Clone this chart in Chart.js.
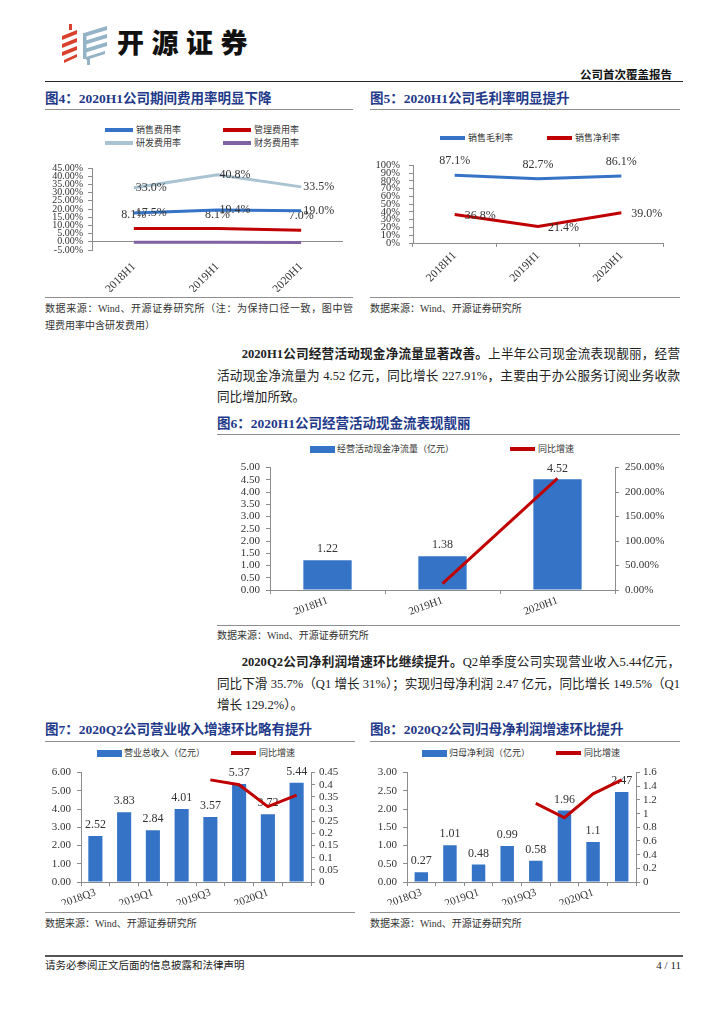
<!DOCTYPE html>
<html>
<head>
<meta charset="utf-8">
<script src="https://cdn.jsdelivr.net/npm/chart.js@4.4.1/dist/chart.umd.min.js"></script>
<style>
  body { margin: 0; background: #fff; }
  #page { position: relative; width: 724px; height: 1024px; overflow: hidden; background: #fff;
    font-family: "Liberation Serif", "Noto Sans CJK SC", serif; color: #222; }
  .abs { position: absolute; white-space: nowrap; }
  .title { font-weight: bold; color: #1f3a8a; font-size: 13.5px; line-height: 16px; }
  .rule { position: absolute; height: 0; border-top: 1.5px solid #8f8f8f; }
  .src { font-size: 10px; line-height: 17px; color: #333; }
  canvas { position: absolute; }
  .legend { position: absolute; font-size: 9px; line-height: 12px; color: #333; display: flex; align-items: center; white-space: nowrap; }
  .legend .li { display: inline-flex; align-items: center; }
  .legend .ln { display: inline-block; height: 3.5px; margin-right: 3px; }
  .legend .box { display: inline-block; height: 7px; margin-right: 2px; }
  .para { position: absolute; left: 217px; width: 463px; font-size: 12.6px; line-height: 21.5px; color: #222; }
  .para div { text-align: justify; text-align-last: justify; }
  .para div.last { text-align-last: left; }
</style>
</head>
<body>
<div id="page">
  <!-- header -->
  <svg class="abs" style="left:60px;top:24px" width="50" height="42" viewBox="0 0 50 42">
    <g fill="#d9412f">
      <rect x="9" y="0" width="3" height="6"/>
      <polygon points="2,12 17,6 17,10 2,16"/>
      <polygon points="2,20 17,14 17,18 2,24"/>
      <polygon points="2,28 17,22 17,26 2,32"/>
      <polygon points="4,36 17,30 17,33 4,39"/>
    </g>
    <g fill="#93b3c6">
      <polygon points="24,9 47,2 47,6 24,13"/>
      <polygon points="24,17 47,10 47,14 24,21"/>
      <polygon points="24,25 47,18 47,22 24,29"/>
      <polygon points="26,33 45,27 45,30 26,36"/>
      <rect x="23" y="9" width="3.5" height="26"/>
      <rect x="27" y="34" width="3" height="7"/>
    </g>
  </svg>
  <div class="abs" style="left:117px;top:26px;font-family:'Noto Sans CJK SC';font-weight:900;font-size:27px;line-height:32px;letter-spacing:7.5px;color:#111">开源证券</div>
  <div class="abs" style="right:52px;top:67px;font-family:'Noto Sans CJK SC';font-weight:bold;font-size:11.5px;line-height:14px;color:#111">公司首次覆盖报告</div>
  <div class="rule" style="left:45px;width:638px;top:81px;border-top:1.5px solid #222"></div>

  <!-- figure 4 -->
  <div class="abs title" style="left:45px;top:91px">图4：2020H1公司期间费用率明显下降</div>
  <div class="rule" style="left:45px;width:308px;top:109px"></div>
  <div id="lg4" class="legend" style="left:105px;top:124px;display:grid;grid-template-columns:118px 118px;row-gap:1px"></div>
  <canvas id="c4" width="308" height="142" style="left:45px;top:150px"></canvas>
  <div class="rule" style="left:45px;width:308px;top:297px"></div>
  <div class="abs src" style="left:45px;top:300px;width:308px;white-space:normal">
    <div style="text-align:justify;text-align-last:justify">数据来源：Wind、开源证券研究所（注：为保持口径一致，图中管</div>
    <div>理费用率中含研发费用）</div>
  </div>

  <!-- figure 5 -->
  <div class="abs title" style="left:370px;top:91px">图5：2020H1公司毛利率明显提升</div>
  <div class="rule" style="left:370px;width:310px;top:109px"></div>
  <div id="lg5" class="legend" style="left:440px;top:132px"></div>
  <canvas id="c5" width="310" height="142" style="left:370px;top:150px"></canvas>
  <div class="rule" style="left:370px;width:310px;top:297px"></div>
  <div class="abs src" style="left:370px;top:300px">数据来源：Wind、开源证券研究所</div>

  <!-- paragraph 1 -->
  <div class="para" style="top:344px">
    <div style="padding-left:24.7px"><b>2020H1公司经营活动现金净流量显著改善。</b>上半年公司现金流表现靓丽，经营</div>
    <div>活动现金净流量为 4.52 亿元，同比增长 227.91%，主要由于办公服务订阅业务收款</div>
    <div class="last">同比增加所致。</div>
  </div>

  <!-- figure 6 -->
  <div class="abs title" style="left:217px;top:416px">图6：2020H1公司经营活动现金流表现靓丽</div>
  <div class="rule" style="left:217px;width:463px;top:434px"></div>
  <div id="lg6" class="legend" style="left:310px;top:443px"></div>
  <canvas id="c6" width="463" height="167" style="left:217px;top:455px"></canvas>
  <div class="rule" style="left:217px;width:463px;top:625px"></div>
  <div class="abs src" style="left:217px;top:627px">数据来源：Wind、开源证券研究所</div>

  <!-- paragraph 2 -->
  <div class="para" style="top:652px">
    <div style="padding-left:24.7px"><b>2020Q2公司净利润增速环比继续提升。</b>Q2单季度公司实现营业收入5.44亿元，</div>
    <div>同比下滑 35.7%（Q1 增长 31%）；实现归母净利润 2.47 亿元，同比增长 149.5%（Q1</div>
    <div class="last">增长 129.2%）。</div>
  </div>

  <!-- figure 7 -->
  <div class="abs title" style="left:45px;top:722px">图7：2020Q2公司营业收入增速环比略有提升</div>
  <div class="rule" style="left:45px;width:310px;top:741px"></div>
  <div id="lg7" class="legend" style="left:97px;top:747px"></div>
  <canvas id="c7" width="310" height="145" style="left:45px;top:760px"></canvas>
  <div class="rule" style="left:45px;width:310px;top:912px"></div>
  <div class="abs src" style="left:45px;top:915px">数据来源：Wind、开源证券研究所</div>

  <!-- figure 8 -->
  <div class="abs title" style="left:370px;top:722px">图8：2020Q2公司归母净利润增速环比提升</div>
  <div class="rule" style="left:370px;width:310px;top:741px"></div>
  <div id="lg8" class="legend" style="left:422px;top:747px"></div>
  <canvas id="c8" width="310" height="145" style="left:370px;top:760px"></canvas>
  <div class="rule" style="left:370px;width:310px;top:912px"></div>
  <div class="abs src" style="left:370px;top:915px">数据来源：Wind、开源证券研究所</div>

  <!-- footer -->
  <div class="rule" style="left:45px;width:638px;top:955px;border-top:2px solid #555"></div>
  <div class="abs" style="left:45px;top:958px;font-size:10.5px;line-height:15px;color:#222">请务必参阅正文后面的信息披露和法律声明</div>
  <div class="abs" style="right:43px;top:958px;font-size:11px;line-height:15px;color:#222">4 / 11</div>
</div>

<script>
// ---- data ----
const halfYears = ['2018H1', '2019H1', '2020H1'];
const sellRate = [17.5, 19.4, 19.0];
const mgmtRate = [8.1, 8.1, 7.0];
const rdRate = [33.0, 40.8, 33.5];
const finRate = [-0.2, -0.3, -0.5];

const grossMargin = [87.1, 82.7, 86.1];
const netMargin = [36.8, 21.4, 39.0];

const cashFlow = [1.22, 1.38, 4.52];
const cashFlowYoy = [null, 13.1, 227.91];

const quarters = ['2018Q3', '2018Q4', '2019Q1', '2019Q2', '2019Q3', '2019Q4', '2020Q1', '2020Q2'];
const revenue = [2.52, 3.83, 2.84, 4.01, 3.57, 5.37, 3.72, 5.44];
const revenueYoy = [null, null, null, null, 0.42, 0.40, 0.31, 0.357];
const netProfit = [0.27, 1.01, 0.48, 0.99, 0.58, 1.96, 1.1, 2.47];
const netProfitYoy = [null, null, null, null, 1.15, 0.94, 1.29, 1.495];

// ---- style ----
const FONT = '"Liberation Serif", "Noto Sans CJK SC", serif';
const BLUE = '#3473c5';
const RED = '#c00000';
const LIGHT = '#a9c3d1';
const PURPLE = '#7f62a1';
const AXIS = '#8c8c8c';

Chart.defaults.font.family = FONT;
Chart.defaults.color = '#333';
Chart.defaults.animation = false;

// value labels drawn right after each dataset, so a later line can cover them
const valueLabels = {
  id: 'valueLabels',
  afterDatasetDraw(chart, args, opts) {
    const cfg = (opts.sets || []).find(s => s.index === args.index);
    if (!cfg) return;
    const ctx = chart.ctx;
    const data = chart.data.datasets[args.index].data;
    ctx.save();
    ctx.font = (cfg.size || 12) + 'px ' + FONT;
    ctx.fillStyle = '#333';
    ctx.textBaseline = 'middle';
    args.meta.data.forEach((el, i) => {
      const v = data[i];
      if (v === null || v === undefined) return;
      const txt = cfg.fmt ? cfg.fmt(v) : String(v);
      if (cfg.pos === 'right') {
        ctx.textAlign = 'left';
        ctx.fillText(txt, el.x + (cfg.dx || 2), el.y + (cfg.dy || 0));
      } else {
        ctx.textAlign = 'center';
        ctx.fillText(txt, el.x, el.y - (cfg.dy || 11));
      }
    });
    ctx.restore();
  }
};
Chart.register(valueLabels);

function htmlLegend(chart, id, widths, lineW) {
  const el = document.getElementById(id);
  chart.data.datasets.forEach((ds, i) => {
    const item = document.createElement('span');
    item.className = 'li';
    if (widths && widths[i]) item.style.width = widths[i] + 'px';
    const sw = document.createElement('i');
    if (ds.type === 'bar') {
      sw.className = 'box';
      sw.style.width = '25px';
      sw.style.background = ds.backgroundColor;
    } else {
      sw.className = 'ln';
      sw.style.width = (lineW || 25) + 'px';
      sw.style.background = ds.borderColor;
    }
    item.appendChild(sw);
    item.appendChild(document.createTextNode(ds.label));
    el.appendChild(item);
  });
}

const pct = v => v.toFixed(1) + '%';
const lineSet = (label, data, color) => ({
  type: 'line', label, data, borderColor: color, backgroundColor: color,
  borderWidth: 3, pointRadius: 0, tension: 0
});

// ---- figure 4 ----
const c4 = new Chart(document.getElementById('c4'), {
  type: 'line',
  data: {
    labels: halfYears,
    datasets: [
      lineSet('销售费用率', sellRate, BLUE),
      lineSet('管理费用率', mgmtRate, RED),
      lineSet('研发费用率', rdRate, LIGHT),
      lineSet('财务费用率', finRate, PURPLE)
    ]
  },
  options: {
    responsive: false,
    layout: { padding: { top: 18, right: 10, left: 0, bottom: 0 } },
    plugins: {
      legend: { display: false }, tooltip: { enabled: false },
      valueLabels: { sets: [
        { index: 0, pos: 'right', fmt: pct },
        { index: 1, pos: 'top', dy: 14, fmt: pct },
        { index: 2, pos: 'right', fmt: pct }
      ] }
    },
    scales: {
      x: {
        offset: true,
        grid: { display: false }, border: { display: false },
        ticks: { minRotation: 45, maxRotation: 45, padding: 2, font: { size: 11.5 } },
        afterFit(s) { s.height = 42; }
      },
      y: {
        min: -5, max: 45,
        ticks: { stepSize: 5, autoSkip: false, padding: 5, font: { size: 10 }, callback: v => v.toFixed(2) + '%' },
        grid: { color: c => (c.tick && c.tick.value === 0 ? AXIS : 'transparent'), tickColor: AXIS, tickLength: 4 },
        border: { color: AXIS },
        afterFit(s) { s.width = 47; }
      }
    }
  }
});
htmlLegend(c4, 'lg4', null, 28);

// ---- figure 5 ----
const c5 = new Chart(document.getElementById('c5'), {
  type: 'line',
  data: {
    labels: halfYears,
    datasets: [
      lineSet('销售毛利率', grossMargin, BLUE),
      lineSet('销售净利率', netMargin, RED)
    ]
  },
  options: {
    responsive: false,
    layout: { padding: { top: 11, right: 17, left: 0, bottom: 0 } },
    plugins: {
      legend: { display: false }, tooltip: { enabled: false },
      valueLabels: { sets: [
        { index: 0, pos: 'top', dy: 14, fmt: pct },
        { index: 1, pos: 'right', dx: 10, dy: 1, fmt: pct }
      ] }
    },
    scales: {
      x: {
        offset: true,
        grid: { offset: true, drawOnChartArea: false, color: AXIS, tickLength: 4 },
        border: { color: AXIS },
        ticks: { minRotation: 45, maxRotation: 45, padding: 2, font: { size: 11.5 } },
        afterFit(s) { s.height = 49; }
      },
      y: {
        min: 0, max: 100,
        ticks: { stepSize: 10, autoSkip: false, padding: 9, font: { size: 10.5 }, callback: v => v + '%' },
        grid: { drawOnChartArea: false, color: AXIS, tickLength: 4 },
        border: { color: AXIS },
        afterFit(s) { s.width = 43; }
      }
    }
  }
});
htmlLegend(c5, 'lg5', [107, 0], 25);

// ---- combo bar + line helper ----
function comboScales(o) {
  const xTicks = { autoSkip: false, minRotation: o.rot, maxRotation: o.rot, padding: 0, font: { size: 11 } };
  if (o.every2) xTicks.callback = function (v, i) { return i % 2 === 0 ? this.getLabelForValue(v) : ''; };
  return {
    x: {
      offset: true,
      grid: { offset: true, drawOnChartArea: false, color: AXIS, tickLength: 4 },
      border: { color: AXIS },
      ticks: xTicks,
      afterFit(s) { s.height = o.xh; }
    },
    y: {
      position: 'left', min: 0, max: o.yMax,
      ticks: { stepSize: o.yStep, autoSkip: false, padding: 6, font: { size: 11 }, callback: v => v.toFixed(2) },
      grid: { drawOnChartArea: false, color: AXIS, tickLength: 4 },
      border: { color: AXIS },
      afterFit(s) { s.width = o.yw; }
    },
    y1: {
      position: 'right', min: 0, max: o.y1Max,
      ticks: { stepSize: o.y1Step, autoSkip: false, padding: o.y1pad, font: { size: 11 }, callback: o.y1fmt },
      grid: { drawOnChartArea: false, color: AXIS, tickLength: 4 },
      border: { color: AXIS },
      afterFit(s) { s.width = o.y1w; }
    }
  };
}
function comboData(labels, bars, barLabel, line, barPct) {
  return {
    labels,
    datasets: [
      { type: 'bar', label: barLabel, data: bars, backgroundColor: BLUE, yAxisID: 'y', order: 2,
        categoryPercentage: 1, barPercentage: barPct },
      Object.assign(lineSet('同比增速', line, RED), { yAxisID: 'y1', order: 1 })
    ]
  };
}
const comboPlugins = { legend: { display: false }, tooltip: { enabled: false },
  valueLabels: { sets: [{ index: 0, pos: 'top', dy: 11 }] } };

// ---- figure 6 ----
const c6 = new Chart(document.getElementById('c6'), {
  data: comboData(halfYears, cashFlow, '经营活动现金净流量（亿元）', cashFlowYoy, 0.42),
  options: {
    responsive: false,
    layout: { padding: { top: 6, right: 0, left: 0, bottom: 0 } },
    plugins: comboPlugins,
    scales: comboScales({ rot: 20, xh: 32, yMax: 5, yStep: 0.5, yw: 53,
      y1Max: 250, y1Step: 50, y1w: 65, y1pad: 6, y1fmt: v => v.toFixed(2) + '%' })
  }
});
htmlLegend(c6, 'lg6', [200, 0], 25);

// ---- figure 7 ----
const c7 = new Chart(document.getElementById('c7'), {
  data: comboData(quarters, revenue, '营业总收入（亿元）', revenueYoy, 0.49),
  options: {
    responsive: false,
    layout: { padding: { top: 5, right: 0, left: 0, bottom: 0 } },
    plugins: comboPlugins,
    scales: comboScales({ rot: 20, xh: 23, every2: true, yMax: 6, yStep: 1, yw: 36,
      y1Max: 0.45, y1Step: 0.05, y1w: 44, y1pad: 4, y1fmt: v => String(+v.toFixed(2)) })
  }
});
htmlLegend(c7, 'lg7', [134, 0], 25);

// ---- figure 8 ----
const c8 = new Chart(document.getElementById('c8'), {
  data: comboData(quarters, netProfit, '归母净利润（亿元）', netProfitYoy, 0.47),
  options: {
    responsive: false,
    layout: { padding: { top: 5, right: 0, left: 0, bottom: 0 } },
    plugins: comboPlugins,
    scales: comboScales({ rot: 20, xh: 23, every2: true, yMax: 3, yStep: 0.5, yw: 37,
      y1Max: 1.6, y1Step: 0.2, y1w: 44, y1pad: 3, y1fmt: v => String(+v.toFixed(1)) })
  }
});
htmlLegend(c8, 'lg8', [134, 0], 25);
</script>
</body>
</html>
